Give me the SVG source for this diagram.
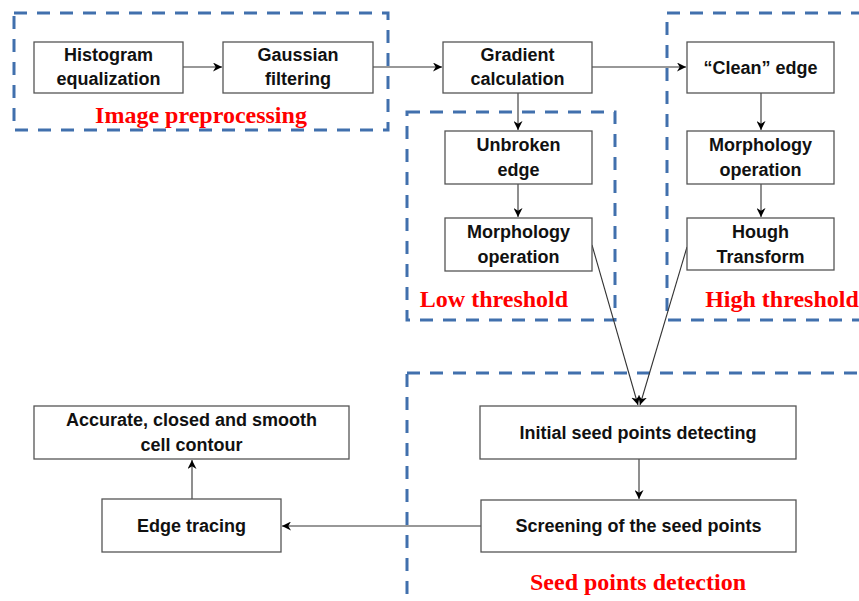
<svg xmlns="http://www.w3.org/2000/svg" width="859" height="601" viewBox="0 0 859 601">
<defs>
<marker id="ah" viewBox="0 0 10 10" refX="10" refY="5" markerWidth="9" markerHeight="9" markerUnits="userSpaceOnUse" orient="auto">
<path d="M0,0 L10,5 L0,10 L3,5 z" fill="#000"/>
</marker>
<style>
.grp{fill:none;stroke:#4170ad;stroke-width:3;stroke-dasharray:13 10}
.box{fill:#fff;stroke:#555;stroke-width:1.3}
.t{font-family:"Liberation Sans",Arial,sans-serif;font-weight:bold;font-size:18px;fill:#111;text-anchor:middle}
.lab{font-family:"Liberation Serif","Times New Roman",serif;font-weight:bold;font-size:24px;fill:#ff0000;text-anchor:middle}
.c{fill:none;stroke:#333;stroke-width:1.1;marker-end:url(#ah)}
</style>
</defs>
<rect width="859" height="601" fill="#fff"/>
<g id="groups">
<rect class="grp" x="14" y="13" width="374" height="117"/>
<rect class="grp" x="407" y="112" width="208" height="208"/>
<rect class="grp" x="667" y="13" width="210" height="307"/>
<rect class="grp" x="407" y="373" width="470" height="250"/>
</g>
<g id="connectors">
<line class="c" x1="183" y1="67" x2="222" y2="67"/>
<line class="c" x1="373" y1="67" x2="442" y2="67"/>
<line class="c" x1="592" y1="67" x2="686" y2="67"/>
<line class="c" x1="518" y1="93" x2="518" y2="130"/>
<line class="c" x1="518" y1="184" x2="518" y2="217"/>
<line class="c" x1="761" y1="93" x2="761" y2="130"/>
<line class="c" x1="761" y1="184" x2="761" y2="217"/>
<line class="c" x1="592" y1="245" x2="638" y2="405"/>
<line class="c" x1="687" y1="247" x2="640" y2="405"/>
<line class="c" x1="639" y1="459" x2="639" y2="499"/>
<line class="c" x1="481" y1="526" x2="282" y2="526"/>
<line class="c" x1="192" y1="499" x2="192" y2="460"/>
</g>
<g id="histogram">
<rect class="box" x="34" y="42" width="149" height="51"/>
<text class="t" x="108.5" y="61">Histogram</text>
<text class="t" x="108.5" y="85">equalization</text>
</g>
<g id="gaussian">
<rect class="box" x="223" y="42" width="150" height="51"/>
<text class="t" x="298" y="61">Gaussian</text>
<text class="t" x="298" y="85">filtering</text>
</g>
<g id="gradient">
<rect class="box" x="443" y="42" width="149" height="51"/>
<text class="t" x="517.5" y="61">Gradient</text>
<text class="t" x="517.5" y="85">calculation</text>
</g>
<g id="clean">
<rect class="box" x="687" y="42" width="147" height="51"/>
<text class="t" x="760.5" y="74">“Clean” edge</text>
</g>
<g id="unbroken">
<rect class="box" x="445" y="131" width="147" height="53"/>
<text class="t" x="518.5" y="151">Unbroken</text>
<text class="t" x="518.5" y="176">edge</text>
</g>
<g id="morph-low">
<rect class="box" x="445" y="218" width="147" height="53"/>
<text class="t" x="518.5" y="238">Morphology</text>
<text class="t" x="518.5" y="263">operation</text>
</g>
<g id="morph-high">
<rect class="box" x="687" y="131" width="147" height="53"/>
<text class="t" x="760.5" y="151">Morphology</text>
<text class="t" x="760.5" y="176">operation</text>
</g>
<g id="hough">
<rect class="box" x="687" y="218" width="147" height="52"/>
<text class="t" x="760.5" y="238">Hough</text>
<text class="t" x="760.5" y="263">Transform</text>
</g>
<g id="initial">
<rect class="box" x="480" y="406" width="316" height="53"/>
<text class="t" x="638" y="439">Initial seed points detecting</text>
</g>
<g id="screening">
<rect class="box" x="481" y="500" width="315" height="52"/>
<text class="t" x="638.5" y="532">Screening of the seed points</text>
</g>
<g id="edge-tracing">
<rect class="box" x="102" y="499" width="179" height="53"/>
<text class="t" x="191.5" y="532">Edge tracing</text>
</g>
<g id="contour">
<rect class="box" x="34" y="406" width="315" height="53"/>
<text class="t" x="191.5" y="426">Accurate, closed and smooth</text>
<text class="t" x="191.5" y="451">cell contour</text>
</g>
<g id="labels">
<text class="lab" x="201" y="123">Image preprocessing</text>
<text class="lab" x="494" y="307">Low threshold</text>
<text class="lab" x="782" y="307">High threshold</text>
<text class="lab" x="638" y="590">Seed points detection</text>
</g>
</svg>
